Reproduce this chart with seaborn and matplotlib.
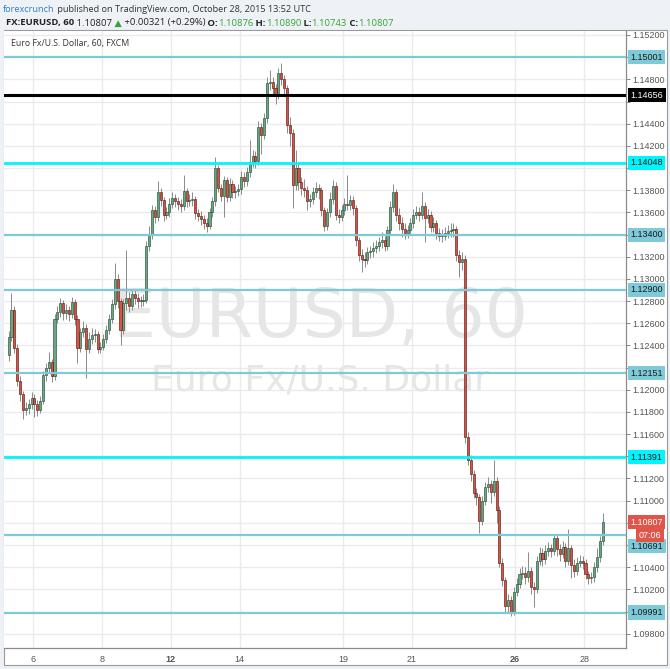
import numpy as np
import pandas as pd
import matplotlib.pyplot as plt
import seaborn as sns
from matplotlib.patches import Rectangle

# EURUSD, 2-hour candles (Oct 5 06:00 -> Oct 28 14:00, trading hours only)
first_open = 1.1231
closes = [
    1.1248, 1.1272, 1.1238, 1.1208, 1.1196, 1.1182, 1.1184, 1.1187, 1.1193, 1.1187,
    1.1182, 1.1190, 1.1213, 1.1220, 1.1225, 1.1212, 1.1264, 1.1270, 1.1278, 1.1269,
    1.1272, 1.1268, 1.1279, 1.1264, 1.1238, 1.1252, 1.1256, 1.1237, 1.1246, 1.1249,
    1.1250, 1.1237, 1.1239, 1.1246, 1.1254, 1.1264, 1.1277, 1.1300, 1.1280, 1.1254,
    1.1278, 1.1283, 1.1276, 1.1286, 1.1283, 1.1280, 1.1280, 1.1281, 1.1330, 1.1340,
    1.1362, 1.1356, 1.1378, 1.1371, 1.1358, 1.1360, 1.1368, 1.1373, 1.1370, 1.1368,
    1.1366, 1.1379, 1.1370, 1.1371, 1.1372, 1.1359, 1.1357, 1.1354, 1.1350, 1.1348,
    1.1360, 1.1370, 1.1400, 1.1382, 1.1375, 1.1389, 1.1374, 1.1386, 1.1378, 1.1379,
    1.1381, 1.1392, 1.1388, 1.1396, 1.1405, 1.1411, 1.1406, 1.1437, 1.1430, 1.1445,
    1.1477, 1.1478, 1.1472, 1.1466, 1.1486, 1.1480, 1.1472, 1.1439, 1.1432, 1.1385,
    1.1400, 1.1387, 1.1382, 1.1380, 1.1370, 1.1372, 1.1378, 1.1382, 1.1380, 1.1362,
    1.1348, 1.1360, 1.1372, 1.1384, 1.1358, 1.1356, 1.1362, 1.1368, 1.1367, 1.1371,
    1.1364, 1.1335, 1.1322, 1.1318, 1.1317, 1.1324, 1.1325, 1.1328, 1.1330, 1.1333,
    1.1335, 1.1330, 1.1344, 1.1365, 1.1378, 1.1358, 1.1350, 1.1345, 1.1341, 1.1344,
    1.1350, 1.1358, 1.1360, 1.1358, 1.1366, 1.1355, 1.1358, 1.1347, 1.1350, 1.1341,
    1.1339, 1.1339, 1.1341, 1.1343, 1.1344, 1.1345, 1.1322, 1.1315, 1.1318, 1.1157,
    1.1137, 1.1124, 1.1107, 1.1103, 1.1082, 1.1100, 1.1112, 1.1115, 1.1108, 1.1118,
    1.1092, 1.1044, 1.1028, 1.1005, 1.1010, 1.1000, 1.1018, 1.1025, 1.1034, 1.1035,
    1.1031, 1.1037, 1.1022, 1.1020, 1.1046, 1.1053, 1.1047, 1.1055, 1.1057, 1.1055,
    1.1066, 1.1056, 1.1052, 1.1058, 1.1046, 1.1057, 1.1042, 1.1037, 1.1044, 1.1046,
    1.1044, 1.1034, 1.1030, 1.1031, 1.1040, 1.1049, 1.1064, 1.1081,
]
highs = [
    1.1253, 1.1287, 1.1276, 1.1241, 1.1212, 1.1199, 1.1189, 1.1192, 1.1198, 1.1196,
    1.1191, 1.1194, 1.1217, 1.1224, 1.1234, 1.1228, 1.1268, 1.1276, 1.1283, 1.1281,
    1.1277, 1.1276, 1.1284, 1.1282, 1.1267, 1.1256, 1.1262, 1.1259, 1.1252, 1.1256,
    1.1255, 1.1253, 1.1243, 1.1250, 1.1258, 1.1268, 1.1282, 1.1314, 1.1304, 1.1283,
    1.1282, 1.1326, 1.1288, 1.1291, 1.1290, 1.1287, 1.1285, 1.1286, 1.1334, 1.1348,
    1.1367, 1.1366, 1.1388, 1.1382, 1.1374, 1.1365, 1.1373, 1.1378, 1.1377, 1.1374,
    1.1372, 1.1394, 1.1382, 1.1377, 1.1378, 1.1375, 1.1363, 1.1361, 1.1358, 1.1355,
    1.1364, 1.1374, 1.1410, 1.1403, 1.1386, 1.1393, 1.1392, 1.1391, 1.1389, 1.1384,
    1.1386, 1.1397, 1.1396, 1.1401, 1.1425, 1.1416, 1.1415, 1.1442, 1.1441, 1.1450,
    1.1482, 1.1488, 1.1482, 1.1476, 1.1490, 1.1495, 1.1484, 1.1475, 1.1446, 1.1435,
    1.1416, 1.1404, 1.1392, 1.1390, 1.1384, 1.1377, 1.1383, 1.1387, 1.1386, 1.1383,
    1.1365, 1.1364, 1.1378, 1.1389, 1.1387, 1.1363, 1.1367, 1.1373, 1.1394, 1.1376,
    1.1375, 1.1367, 1.1338, 1.1327, 1.1324, 1.1329, 1.1330, 1.1333, 1.1335, 1.1338,
    1.1342, 1.1339, 1.1348, 1.1370, 1.1386, 1.1381, 1.1364, 1.1356, 1.1350, 1.1349,
    1.1355, 1.1363, 1.1366, 1.1365, 1.1378, 1.1369, 1.1363, 1.1361, 1.1356, 1.1353,
    1.1346, 1.1345, 1.1347, 1.1349, 1.1350, 1.1350, 1.1348, 1.1326, 1.1324, 1.1322,
    1.1162, 1.1141, 1.1128, 1.1111, 1.1106, 1.1104, 1.1117, 1.1121, 1.1119, 1.1137,
    1.1121, 1.1095, 1.1048, 1.1031, 1.1016, 1.1014, 1.1022, 1.1030, 1.1039, 1.1041,
    1.1040, 1.1054, 1.1040, 1.1027, 1.1050, 1.1058, 1.1057, 1.1060, 1.1063, 1.1061,
    1.1070, 1.1069, 1.1061, 1.1064, 1.1062, 1.1074, 1.1060, 1.1047, 1.1049, 1.1051,
    1.1050, 1.1047, 1.1037, 1.1036, 1.1045, 1.1057, 1.1068, 1.1089,
]
lows = [
    1.1226, 1.1244, 1.1233, 1.1203, 1.1190, 1.1174, 1.1177, 1.1178, 1.1183, 1.1175,
    1.1176, 1.1179, 1.1187, 1.1208, 1.1216, 1.1207, 1.1209, 1.1260, 1.1266, 1.1263,
    1.1264, 1.1262, 1.1265, 1.1258, 1.1224, 1.1234, 1.1248, 1.1211, 1.1233, 1.1241,
    1.1243, 1.1233, 1.1233, 1.1236, 1.1242, 1.1250, 1.1260, 1.1273, 1.1274, 1.1240,
    1.1250, 1.1272, 1.1270, 1.1272, 1.1277, 1.1274, 1.1275, 1.1276, 1.1278, 1.1325,
    1.1336, 1.1350, 1.1352, 1.1366, 1.1352, 1.1354, 1.1356, 1.1364, 1.1365, 1.1362,
    1.1360, 1.1362, 1.1365, 1.1366, 1.1366, 1.1354, 1.1352, 1.1349, 1.1345, 1.1342,
    1.1345, 1.1356, 1.1366, 1.1378, 1.1370, 1.1356, 1.1369, 1.1370, 1.1373, 1.1373,
    1.1375, 1.1377, 1.1383, 1.1384, 1.1392, 1.1401, 1.1400, 1.1403, 1.1413, 1.1426,
    1.1441, 1.1470, 1.1466, 1.1458, 1.1462, 1.1475, 1.1466, 1.1432, 1.1420, 1.1364,
    1.1380, 1.1380, 1.1376, 1.1374, 1.1362, 1.1365, 1.1368, 1.1374, 1.1372, 1.1357,
    1.1343, 1.1344, 1.1356, 1.1368, 1.1353, 1.1350, 1.1352, 1.1358, 1.1362, 1.1362,
    1.1358, 1.1330, 1.1316, 1.1306, 1.1311, 1.1313, 1.1319, 1.1320, 1.1323, 1.1325,
    1.1328, 1.1325, 1.1326, 1.1340, 1.1360, 1.1352, 1.1344, 1.1338, 1.1336, 1.1337,
    1.1340, 1.1346, 1.1354, 1.1352, 1.1354, 1.1333, 1.1350, 1.1342, 1.1342, 1.1336,
    1.1334, 1.1333, 1.1335, 1.1337, 1.1338, 1.1338, 1.1316, 1.1302, 1.1308, 1.1152,
    1.1132, 1.1118, 1.1102, 1.1096, 1.1071, 1.1078, 1.1096, 1.1108, 1.1098, 1.1104,
    1.1080, 1.1040, 1.1023, 1.1000, 1.0999, 1.0996, 1.0997, 1.1014, 1.1021, 1.1029,
    1.1025, 1.1027, 1.1016, 1.1004, 1.1017, 1.1042, 1.1041, 1.1043, 1.1050, 1.1049,
    1.1051, 1.1050, 1.1046, 1.1048, 1.1040, 1.1042, 1.1030, 1.1031, 1.1033, 1.1040,
    1.1038, 1.1029, 1.1025, 1.1026, 1.1027, 1.1036, 1.1045, 1.1060,
]

# horizontal levels drawn on the chart
levels = [1.15001, 1.14656, 1.14048, 1.13400, 1.12900, 1.12151, 1.11391, 1.10691, 1.09991]
level_kind = ['s', 'k', 'c', 's', 's', 's', 'c', 's', 's']
last_price = 1.10807
countdown = '07:06'

# day labels (trading-hour index from Oct 5 00:00)
day_hours = [24, 72, 120, 168, 240, 288, 360, 408]
day_labels = ['6', '8', '12', '14', '19', '21', '26', '28']
bold_days = ['12', '26']

df = pd.DataFrame({'close': closes, 'high': highs, 'low': lows})
df['open'] = [first_open] + closes[:-1]
df['hour'] = 7 + 2 * np.arange(len(df))
df['up'] = df['close'] >= df['open']

sns.set_style('white')
plt.rcParams['font.family'] = ['Liberation Sans', 'DejaVu Sans']

W, H = 670, 669
fig = plt.figure(figsize=(W / 100, H / 100), dpi=100)
fig.patch.set_facecolor('#eef2f6')

# outer chart panel (behind the axes)
panel = Rectangle((4 / W, 1 - 665 / H), 663 / W, 635 / H, transform=fig.transFigure,
                  facecolor='white', edgecolor='#9a9a9a', lw=0.8, zorder=-5)
fig.patches.append(panel)

ax = fig.add_axes([4 / W, 1 - 648 / H, 622 / W, 617 / H])
ax.set_zorder(2)
ax.set_facecolor('white')
ax.set_xlim(3.8, 437.2)
ax.set_ylim(1.09671, 1.15236)

# price labels on the axis hide the ticks they sit on
label_spots = levels + [last_price, 1.10691 - 0.0010]
yt = np.round(np.arange(1.098, 1.1521, 0.002), 3)
ax.set_yticks(yt)
ax.set_yticklabels(['' if min(abs(v - s) for s in label_spots) < 0.0009 else f'{v:.5f}' for v in yt])
ax.set_xticks(day_hours)
ax.set_xticklabels(day_labels)
for lab in ax.get_xticklabels():
    if lab.get_text() in bold_days:
        lab.set_fontweight('bold')
ax.grid(True, color='#ebebeb', lw=1)
ax.set_axisbelow(True)
ax.yaxis.tick_right()
ax.tick_params(axis='y', length=3, width=0.7, color='#888888', pad=1.5, labelsize=6.5, labelcolor='#555555')
ax.tick_params(axis='x', length=3, width=0.7, color='#888888', pad=2, labelsize=6.5, labelcolor='#555555')
for side in ['top', 'left']:
    ax.spines[side].set_visible(False)
for side in ['right', 'bottom']:
    ax.spines[side].set_color('#8a8a8a')
    ax.spines[side].set_linewidth(0.9)

# watermark
ax.text(0.508, 0.535, 'EURUSD, 60', transform=ax.transAxes, ha='center', va='center',
        fontsize=49, color='#e6e6e6', family='DejaVu Sans', zorder=1)
ax.text(0.508, 0.433, 'Euro Fx/U.S. Dollar', transform=ax.transAxes, ha='center', va='center',
        fontsize=26, color='#e6e6e6', family='DejaVu Sans', zorder=1)

# candles
ax.vlines(df['hour'], df['low'], df['high'], color='#8a8a8c', lw=0.7, zorder=3)
for up, face, edge in [(True, '#6ba583', '#225437'), (False, '#d75442', '#5b1a13')]:
    d = df[df['up'] == up]
    body = (d['close'] - d['open']).abs().clip(lower=0.00006)
    ax.bar(d['hour'], body, bottom=d[['open', 'close']].min(axis=1), width=1.45,
           color=face, edgecolor=edge, lw=0.45, zorder=4)

# levels + their price labels
kind_color = {'s': '#7ecad8', 'c': '#00f6ff', 'k': '#000000'}
kind_lw = {'s': 1.6, 'c': 2.0, 'k': 2.2}
for lev, kind in zip(levels, level_kind):
    ax.axhline(lev, color=kind_color[kind], lw=kind_lw[kind], zorder=5)
    dy = -8 if lev == 1.10691 else 0
    ax.annotate(f'{lev:.5f}', xy=(1, lev), xycoords=('axes fraction', 'data'),
                xytext=(3.2, dy), textcoords='offset points', va='center', ha='left',
                fontsize=6.5, color='white' if kind == 'k' else '#1a1a1a', zorder=10,
                annotation_clip=False,
                bbox=dict(boxstyle='square,pad=0.28', fc=kind_color[kind], ec='none'))

ax.annotate(f'{last_price:.5f}', xy=(1, last_price), xycoords=('axes fraction', 'data'),
            xytext=(3.2, 0), textcoords='offset points', va='center', ha='left', fontsize=6.5,
            color='white', annotation_clip=False, zorder=11,
            bbox=dict(boxstyle='square,pad=0.28', fc='#e0554a', ec='none'))
ax.annotate(countdown, xy=(1, last_price), xycoords=('axes fraction', 'data'),
            xytext=(9, -9.5), textcoords='offset points', va='center', ha='left', fontsize=6.5,
            color='white', annotation_clip=False, zorder=11,
            bbox=dict(boxstyle='square,pad=0.28', fc='#e0554a', ec='none'))

ax.text(0.012, 0.979, 'Euro Fx/U.S. Dollar, 60, FXCM', transform=ax.transAxes, ha='left', va='center',
        fontsize=6.3, color='#333333', family=['Open Sans', 'DejaVu Sans'])

# header rows
renderer = fig.canvas.get_renderer()


def put_row(x, y, parts, size):
    for s, col, bold in parts:
        t = fig.text(x, y, s, color=col, fontsize=size, fontweight='bold' if bold else 'normal',
                     ha='left', va='center', family=['Open Sans', 'DejaVu Sans'])
        x = t.get_window_extent(renderer=renderer).x1 / fig.bbox.width


green = '#36a336'
put_row(3 / W, 1 - 9 / H, [('forexcrunch', '#2e7fc0', False),
                           (' published on TradingView.com, October 28, 2015 13:52 UTC', '#333333', False)], 6.6)
put_row(6 / W, 1 - 23 / H, [('FX:EURUSD, 60', '#222222', True), (' 1.10807', '#222222', False),
                            (' ▲', green, False), (' +0.00321 (+0.29%)', '#222222', False),
                            (' O:', '#222222', True), ('1.10876', green, False),
                            (' H:', '#222222', True), ('1.10890', green, False),
                            (' L:', '#222222', True), ('1.10743', green, False),
                            (' C:', '#222222', True), ('1.10807', green, False)], 6.8)

fig.savefig('out.png', dpi=100, facecolor=fig.get_facecolor())
